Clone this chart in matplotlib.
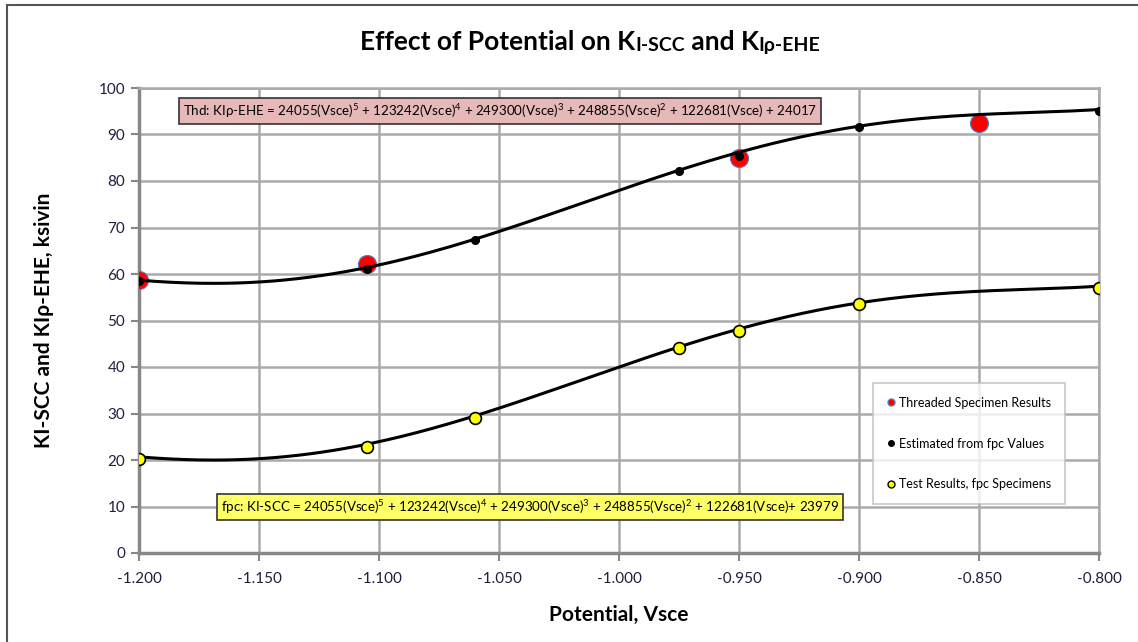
import numpy as np
import matplotlib.pyplot as plt
from matplotlib.patches import Rectangle
from matplotlib.lines import Line2D

plt.rcParams['font.family'] = ['Lato', 'DejaVu Sans']
plt.rcParams['mathtext.fontset'] = 'custom'
plt.rcParams['mathtext.rm'] = 'Lato'

# datos
x_thd = [-1.200, -1.105, -0.950, -0.850]
y_thd = [58.8, 62.2, 85.0, 92.5]

x_est = [-1.200, -1.105, -1.060, -0.975, -0.950, -0.900, -0.800]
y_est = [58.5, 61.1, 67.3, 82.2, 85.3, 91.6, 95.1]

x_fpc = [-1.200, -1.105, -1.060, -0.975, -0.950, -0.900, -0.800]
y_fpc = [20.3, 22.9, 29.0, 44.1, 47.7, 53.5, 56.9]

# coeficientes de las lineas de tendencia (del texto del grafico)
coef_thd = [24055, 123242, 249300, 248855, 122681, 24017]
coef_fpc = [24055, 123242, 249300, 248855, 122681, 23979]

x_ticks = np.arange(-1.2, -0.799, 0.05)
y_ticks = np.arange(0, 101, 10)

fig = plt.figure(figsize=(11.38, 6.42), dpi=100)
ax = fig.add_axes([139/1138, 1 - 553/642, 960/1138, 465/642])

# marco exterior
fig.patches.append(Rectangle((7/1138, -0.1), 1.2, 1 - 5/642 + 0.1, transform=fig.transFigure,
                             fill=False, edgecolor='#555555', linewidth=1.5))

xx = np.linspace(-1.2, -0.8, 400)
ax.plot(x_thd, y_thd, 'o', ms=13, mfc='#FF0000', mec='#4F81BD', mew=0.8, zorder=3)
ax.plot(xx, np.polyval(coef_thd, xx), color='black', lw=2.2, zorder=4)
ax.plot(xx, np.polyval(coef_fpc, xx), color='black', lw=2.2, zorder=4)
ax.plot(x_est, y_est, 'o', ms=5.5, mfc='black', mec='black', zorder=5)
ax.plot(x_fpc, y_fpc, 'o', ms=8.5, mfc='#FFFF00', mec='black', mew=1.2, zorder=5)

ax.set_xlim(-1.2, -0.8)
ax.set_ylim(0, 100)
ax.set_xticks(x_ticks)
ax.set_xticklabels([f"{v:.3f}" for v in x_ticks])
ax.set_yticks(y_ticks)
ax.tick_params(axis='both', direction='out', length=6, width=1.5, color='#888888',
               labelsize=11, labelcolor='#1F1F3F', pad=4)
ax.tick_params(axis='x', pad=8)
ax.grid(True, color='#AAAAAA', lw=1.8)
ax.set_axisbelow(True)
for s in ['left', 'bottom']:
    ax.spines[s].set_color('#888888')
    ax.spines[s].set_linewidth(2.5)
for s in ['top', 'right']:
    ax.spines[s].set_color('#AAAAAA')
    ax.spines[s].set_linewidth(1.8)

ax.set_xlabel('Potential, Vsce', fontsize=15, fontweight='bold', labelpad=13)
ax.set_ylabel('KI-SCC and KIρ-EHE, ksivin', fontsize=15, fontweight='bold', labelpad=32)

# titulo con subindices
t = fig.text(360/1138, 1 - 54/642, 'Effect of Potential on K', fontsize=19,
             fontweight='bold', va='bottom', ha='left')
partes = [('I-SCC', 14), (' and K', 19), ('Iρ-EHE', 14)]
prev = t
for s, fs in partes:
    prev = ax.annotate(s, xy=(1, 0), xycoords=prev, fontsize=fs, fontweight='bold',
                       va='bottom', ha='left', annotation_clip=False)

# ecuaciones
eq_thd = (r'Thd: KIρ-EHE = 24055(Vsce)$^5$ + 123242(Vsce)$^4$ + 249300(Vsce)$^3$'
          r' + 248855(Vsce)$^2$ + 122681(Vsce) + 24017')
eq_fpc = (r'fpc: KI-SCC = 24055(Vsce)$^5$ + 123242(Vsce)$^4$ + 249300(Vsce)$^3$'
          r' + 248855(Vsce)$^2$ + 122681(Vsce)+ 23979')
ax.text(-1.1815, 95.0, eq_thd, fontsize=9.6, va='center', ha='left', zorder=6,
        bbox=dict(boxstyle='square,pad=0.3', fc='#E6B9B8', ec='#333333', lw=1.2))
ax.text(-1.1657, 9.9, eq_fpc, fontsize=9.6, va='center', ha='left', zorder=6,
        bbox=dict(boxstyle='square,pad=0.3', fc='#FFFF66', ec='#333333', lw=1.2))

handles = [
    Line2D([], [], ls='none', marker='o', ms=5, mfc='#FF0000', mec='#4F81BD'),
    Line2D([], [], ls='none', marker='o', ms=4, mfc='black', mec='black'),
    Line2D([], [], ls='none', marker='o', ms=5, mfc='#FFFF00', mec='black'),
]
labels = ['Threaded Specimen Results', 'Estimated from fpc Values', 'Test Results, fpc Specimens']
leg = ax.legend(handles, labels, loc='upper left', bbox_to_anchor=(873/1138, 1 - 383/642),
                bbox_transform=fig.transFigure, fontsize=9, frameon=True, fancybox=False,
                labelspacing=2.3, handlelength=0.6, handletextpad=0.4, borderpad=1.1,
                edgecolor='#BBBBBB', borderaxespad=0)
leg.get_frame().set_linewidth(1.2)
leg.set_zorder(7)

fig.savefig('out.png', dpi=100)
